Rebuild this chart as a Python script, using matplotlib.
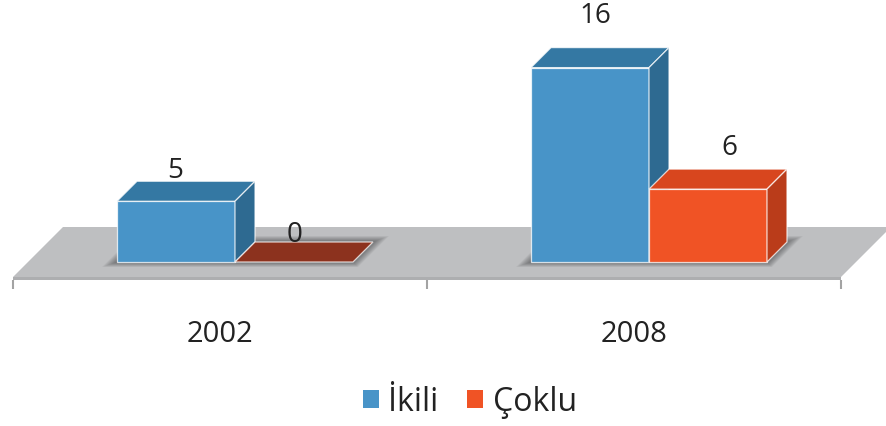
import matplotlib
matplotlib.use("Agg")
import matplotlib.pyplot as plt
from matplotlib.patches import Polygon, Patch

# ---- data ----
years = ["2002", "2008"]
series_names = ["İkili", "Çoklu"]
ikili = [5, 16]
coklu = [0, 6]
values = [ikili, coklu]

# ---- style ----
front_cols = ["#4894C8", "#F05325"]
top_cols = ["#3478A3", "#D8461E"]
side_cols = ["#2E6A91", "#BA3C1A"]
zero_cols = ["#2E6A91", "#8C321E"]
floor_col = "#BEBFC1"
text_col = "#222222"
plt.rcParams['font.family'] = ['Open Sans', 'DejaVu Sans']

# layout (pixel scales)
W, H = 886, 427
PX_CAT = 414.0      # pixels per category
PX_VAL = 12.15      # pixels per value unit
X0_PX = 235.0       # pixel x of category 0 centre (bar front plane)
Y0_PX = 164.0       # pixel y (from bottom) of value 0
BAR_W = 0.285       # category units
DEPTH = 20.0        # bar depth (px)
FLOOR_FRONT, FLOOR_BACK = -15.0, 35.0

# label nudges in pixels (dx, dy) per series/category
label_dx = [[-1, 5], [1, 21]]
label_dy = [[31, 53], [28, 42]]

fig = plt.figure(figsize=(W / 100, H / 100), dpi=100)
ax = fig.add_axes([0, 0, 1, 1])
ax.set_xlim(-X0_PX / PX_CAT, (W - X0_PX) / PX_CAT)
ax.set_ylim(-Y0_PX / PX_VAL, (H - Y0_PX) / PX_VAL)
ax.axis('off')


def P(x, v, z=0.0):
    return (x + z / PX_CAT, v + z / PX_VAL)


def poly(pts, **kw):
    ax.add_patch(Polygon(pts, closed=True, **kw))


n = len(years)
# floor
xl, xr = -0.5, n - 0.5
thick = 3.0 / PX_VAL
poly([P(xl, 0, FLOOR_FRONT), P(xr, 0, FLOOR_FRONT), P(xr, 0, FLOOR_BACK),
      P(xl, 0, FLOOR_BACK)], facecolor=floor_col, edgecolor='none', zorder=1)
fx0 = P(xl, 0, FLOOR_FRONT)
fx1 = P(xr, 0, FLOOR_FRONT)
poly([fx0, fx1, (fx1[0], fx1[1] - thick), (fx0[0], fx0[1] - thick)],
     facecolor="#ADAEB0", edgecolor='none', zorder=1)
# ticks
for k in range(n + 1):
    tx, ty = P(k - 0.5, 0, FLOOR_FRONT)
    ax.plot([tx, tx], [ty - thick, ty - thick - 9 / PX_VAL], color="#A3A3A3",
            lw=1.5, zorder=1, solid_capstyle='butt')

# shadows
for c in range(n):
    gx0, gx1 = c - BAR_W, c + BAR_W
    for e in range(10, 0, -1):
        ex = e / PX_CAT
        poly([P(gx0 - ex, 0, -e * 0.5), P(gx1 + ex, 0, -e * 0.5),
              P(gx1 + ex, 0, DEPTH + e * 0.6), P(gx0 - ex, 0, DEPTH + e * 0.6)],
             facecolor='black', edgecolor='none', alpha=0.045, zorder=2)

# bars
ec = dict(edgecolor=(1, 1, 1, 0.75), lw=0.9)
for c in range(n):
    for s in range(len(values)):
        v = values[s][c]
        x0 = c - BAR_W + s * BAR_W
        x1 = x0 + BAR_W
        z = 3 + c * 2 + s
        if v == 0:
            poly([P(x0, 0, 0), P(x1, 0, 0), P(x1, 0, DEPTH), P(x0, 0, DEPTH)],
                 facecolor=zero_cols[s], zorder=z, **ec)
        else:
            poly([P(x0, 0), P(x1, 0), P(x1, v), P(x0, v)],
                 facecolor=front_cols[s], zorder=z, **ec)
            poly([P(x0, v, 0), P(x1, v, 0), P(x1, v, DEPTH), P(x0, v, DEPTH)],
                 facecolor=top_cols[s], zorder=z, **ec)
            poly([P(x1, 0, 0), P(x1, 0, DEPTH), P(x1, v, DEPTH), P(x1, v, 0)],
                 facecolor=side_cols[s], zorder=z, **ec)
        ax.annotate(str(v), xy=P((x0 + x1) / 2, v), xytext=(label_dx[s][c], label_dy[s][c]),
                    textcoords='offset pixels', ha='center', va='center',
                    fontsize=20, color=text_col, zorder=20)

# category labels
for c, yr in enumerate(years):
    ax.annotate(yr, xy=P(c, 0, FLOOR_FRONT), xytext=(0, -57), textcoords='offset pixels',
                ha='center', va='center', fontsize=21, color=text_col)

# legend
handles = [Patch(facecolor=front_cols[i], edgecolor='none', label=series_names[i])
           for i in range(len(series_names))]
fig.legend(handles=handles, loc='center', bbox_to_anchor=(470 / W, 1 - 403 / H),
           ncol=2, frameon=False, fontsize=23, handlelength=0.5, handleheight=0.5,
           handletextpad=0.3, columnspacing=0.9, labelcolor=text_col)

fig.savefig("out.png", dpi=100)
